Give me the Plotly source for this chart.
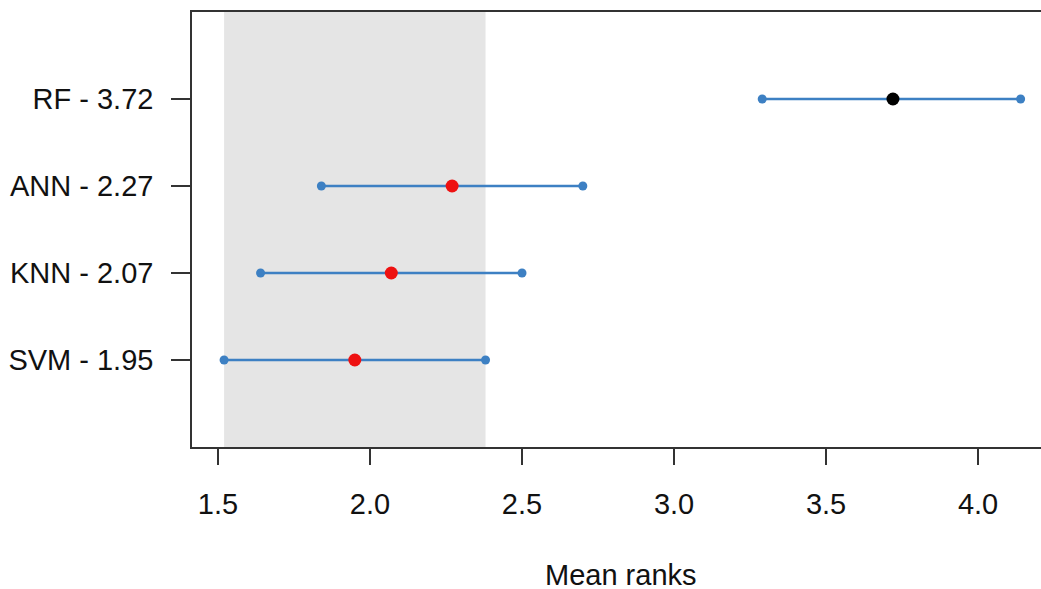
import plotly.graph_objects as go

# Mean ranks of each method with its critical-difference interval
methods = ["SVM", "KNN", "ANN", "RF"]
mean_ranks = [1.95, 2.07, 2.27, 3.72]
lower = [1.52, 1.64, 1.84, 3.29]
upper = [2.38, 2.50, 2.70, 4.14]
# methods not significantly different from the best one
mean_colors = ["#ee1111", "#ee1111", "#ee1111", "#000000"]
x_ticks = [1.5, 2.0, 2.5, 3.0, 3.5, 4.0]

positions = list(range(1, len(methods) + 1))
labels = [f"{m} - {r:.2f}" for m, r in zip(methods, mean_ranks)]

FONT = "Liberation Sans, Arial, sans-serif"
AXIS_COLOR = "#333333"
BLUE = "#3d80c3"

fig = go.Figure()

# critical-difference band of the best ranked method
fig.add_shape(
    type="rect", xref="x", yref="paper",
    x0=lower[0], x1=upper[0], y0=0, y1=1,
    fillcolor="#e5e5e5", line_width=0, layer="below",
)

for i, pos in enumerate(positions):
    fig.add_trace(go.Scatter(
        x=[lower[i], upper[i]], y=[pos, pos],
        mode="lines+markers",
        line=dict(color=BLUE, width=2.5),
        marker=dict(color=BLUE, size=9),
        showlegend=False, hoverinfo="skip",
    ))

fig.add_trace(go.Scatter(
    x=mean_ranks, y=positions,
    mode="markers",
    marker=dict(color=mean_colors, size=13, symbol="circle"),
    showlegend=False,
))

fig.add_annotation(
    text="Mean ranks", xref="paper", yref="paper",
    x=0.505, y=-0.295, xanchor="center", yanchor="middle",
    showarrow=False, font=dict(family=FONT, size=29, color="#111111"),
)

fig.update_layout(
    width=1041, height=589,
    margin=dict(l=192, r=0, t=12, b=142),
    paper_bgcolor="white", plot_bgcolor="white",
    font=dict(family=FONT, size=29, color="#111111"),
    xaxis=dict(
        range=[1.4145, 4.207], tickvals=x_ticks,
        ticktext=[f"{v:.1f}" for v in x_ticks],
        showgrid=False, zeroline=False,
        showline=True, mirror=True, linecolor=AXIS_COLOR, linewidth=1.5,
        ticks="outside", ticklen=16, tickwidth=1.5, tickcolor=AXIS_COLOR,
        ticklabelstandoff=14,
    ),
    yaxis=dict(
        range=[0, 5], tickvals=positions, ticktext=labels,
        showgrid=False, zeroline=False,
        showline=True, mirror=False, linecolor=AXIS_COLOR, linewidth=1.5,
        ticks="outside", ticklen=19, tickwidth=1.5, tickcolor=AXIS_COLOR,
        ticklabelstandoff=12,
    ),
)

fig.write_html("out.html")
